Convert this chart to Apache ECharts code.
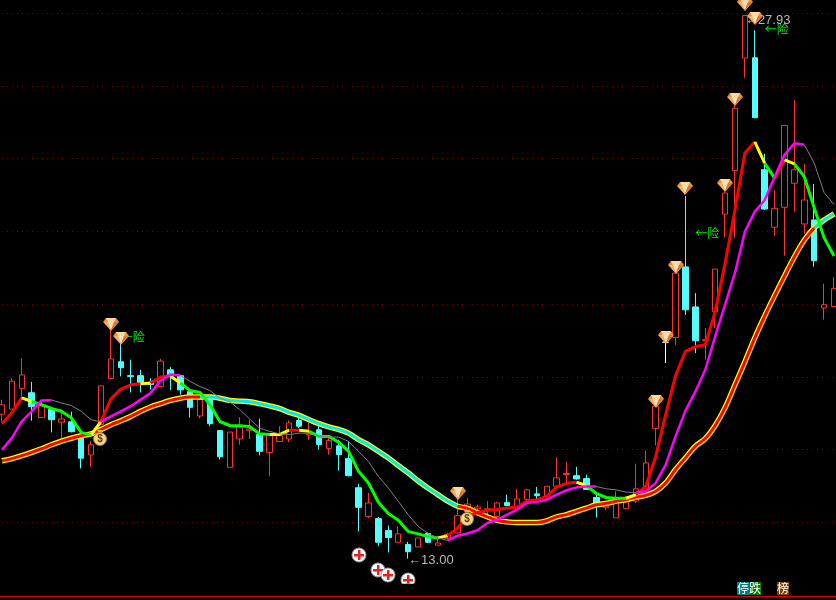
<!DOCTYPE html>
<html>
<head>
<meta charset="utf-8">
<title>K线</title>
<style>
html,body{margin:0;padding:0;background:#000;}
#main{width:836px;height:600px;}
</style>
<script src="https://cdn.jsdelivr.net/npm/echarts@6/dist/echarts.min.js"></script>
</head>
<body>
<div id="main"></div>
<script>
//K线：开，收，低，高
var candles = [
[16.97,17.23,16.77,17.37],[17.11,17.88,17.11,17.96],[17.68,18.05,17.37,18.51],[17.56,17.18,16.79,17.86],[16.88,17.20,16.88,17.37],
[17.10,16.82,16.47,17.15],[16.75,16.84,16.32,17.10],[16.76,16.49,16.47,17.04],[16.36,15.76,15.48,16.47],[15.85,16.13,15.51,16.24],
[16.69,17.75,16.69,17.75],[17.95,18.49,17.92,19.35],[18.41,18.25,18.01,18.93],[18.03,18.01,17.57,18.47],[18.03,17.83,17.57,18.19],
[17.83,17.79,17.64,17.96],[17.73,18.43,17.72,18.49],[18.19,18.03,17.64,18.27],[18.03,17.64,17.51,18.03],[17.59,17.16,16.88,17.59],
[16.92,17.37,16.86,17.51],[17.37,16.71,16.64,17.42],[16.52,15.80,15.72,16.52],[15.51,16.48,15.51,16.48],[16.29,16.62,16.13,16.89],
[16.53,16.56,16.29,16.82],[16.41,15.95,15.84,16.85],[15.92,16.38,15.26,16.38],[16.22,16.38,16.22,16.64],[16.29,16.73,16.20,16.80],
[16.80,16.64,16.59,17.00],[16.40,16.43,16.26,16.73],[16.54,16.14,16.00,16.68],[16.03,16.25,15.86,16.32],[16.10,15.86,15.42,16.27],
[15.75,15.28,15.26,16.22],[14.95,14.41,13.75,15.06],[14.16,14.53,14.11,14.81],[14.10,13.45,13.34,14.15],[13.77,13.58,13.17,13.91],
[13.45,13.68,13.45,13.89],[13.39,13.19,13.00,13.46],[13.32,13.57,13.32,13.57],[13.69,13.45,13.43,13.72],[13.37,13.43,13.37,13.54],
[13.56,13.67,13.52,13.71],[13.71,14.18,13.69,14.68],[14.30,14.50,14.07,14.67],[14.37,14.42,14.33,14.48],[14.33,14.37,14.07,14.58],
[14.16,14.53,14.15,14.56],[14.54,14.46,14.44,14.76],[14.42,14.64,14.39,14.92],[14.63,14.89,14.58,14.92],[14.78,14.73,14.62,14.97],
[14.71,14.99,14.58,14.99],[14.99,15.22,14.94,15.79],[15.31,15.34,15.08,15.66],[15.28,15.19,15.17,15.52],[15.20,14.90,14.90,15.31],
[14.68,14.49,14.13,14.76],[14.40,14.44,14.33,14.60],[14.12,14.60,14.12,14.85],[14.38,14.64,14.38,14.71],[14.58,14.92,14.53,15.61],
[14.94,15.63,14.94,15.97],[16.58,17.19,16.11,17.48],[18.95,18.95,18.38,19.15],[19.08,20.85,18.88,20.94],[21.02,19.84,19.70,22.97],
[19.92,18.99,18.65,20.30],[18.99,19.02,18.47,19.34],[19.79,20.96,19.35,20.96],[22.47,23.05,21.83,23.09],[23.67,25.38,21.82,25.53],
[26.76,27.93,26.22,27.93],[26.77,25.12,25.12,27.53],[23.69,22.61,22.59,24.13],[22.11,22.63,21.87,23.14],[22.66,24.91,21.33,24.91],
[23.32,23.69,22.54,25.61],[22.20,22.86,21.93,23.85],[22.31,21.19,21.03,23.30],[19.89,19.98,19.57,20.56],[19.93,20.42,19.93,20.74]
];
//快线
var fastLine = [
16.71,17.01,17.42,17.32,17.23,17.13,17.05,16.87,16.47,16.40,16.77,17.39,17.66,17.78,17.81,17.83,17.99,18.02,17.83,17.62,
17.57,17.23,16.77,16.66,16.65,16.63,16.43,16.41,16.41,16.53,16.53,16.50,16.36,16.36,16.20,15.95,15.40,15.08,14.55,14.24,
14.06,13.75,13.68,13.61,13.57,13.63,13.84,14.16,14.27,14.33,14.35,14.39,14.42,14.58,14.62,14.71,14.97,15.07,15.10,15.01,
14.79,14.68,14.66,14.66,14.76,14.99,15.81,16.96,18.03,18.70,18.83,18.88,19.79,21.12,22.59,24.15,24.46,23.87,23.46,23.96,
23.85,23.50,22.64,21.82,21.32
];
//中线
var midLine = [
15.99,16.32,16.77,17.05,17.35,17.36,17.28,17.21,17.05,16.82,16.76,16.91,17.05,17.19,17.37,17.55,17.89,18.06,18.04,17.87,
17.73,17.62,17.41,17.31,17.10,16.84,16.59,16.50,16.43,16.41,16.45,16.45,16.36,16.34,16.34,16.22,15.95,15.67,15.26,14.94,
14.58,14.21,13.89,13.69,13.57,13.50,13.63,13.69,13.78,13.98,14.07,14.21,14.35,14.53,14.56,14.62,14.76,14.88,14.96,14.98,
14.98,14.92,14.89,14.83,14.81,14.85,15.08,15.58,16.36,17.07,17.59,18.19,19.11,19.98,20.86,21.99,22.54,22.86,23.49,24.10,
24.42,24.38,23.87,23.06,22.73
];
//慢线
var slowLine = [
15.69,15.75,15.83,15.92,16.02,16.13,16.23,16.31,16.38,16.43,16.55,16.68,16.79,16.91,17.05,17.17,17.26,17.35,17.41,17.44,
17.44,17.44,17.41,17.35,17.33,17.31,17.26,17.20,17.13,17.02,16.94,16.82,16.71,16.62,16.55,16.45,16.27,16.13,15.95,15.77,
15.56,15.36,15.14,14.94,14.76,14.58,14.44,14.38,14.26,14.15,14.05,14.01,13.99,13.99,13.99,14.04,14.15,14.21,14.30,14.39,
14.48,14.52,14.58,14.62,14.69,14.74,14.85,15.08,15.45,15.77,16.09,16.30,16.66,17.15,17.78,18.41,19.07,19.67,20.23,20.77,
21.30,21.76,22.09,22.31,22.48
];
//各线分段：转折点下标和走势
var fastTurns = [0,2,3,9,10,14,15,17,18,27,29,30,31,44,45,58,59,63,64,76,77,78,79,80,84];
var fastTrend = ['up','flat','down','flat','up','flat','up','flat','down','flat','up','flat','down','flat','up','flat','down','flat','up','flat','down','up','flat','down'];
var midTurns = [0,5,10,18,45,60,64,81,84];
var midTrend = ['up','down','up','down','up','down','up','down'];
var slowTurns = [0,20,46,82,84];
var slowTrend = ['up','down','up','down'];
//图标：下标和价位
var diamondMarks = [[11,19.46],[12,19.07],[46,14.81],[66,17.34],[67,19.10],[68,21.02],[69,23.19],[73,23.28],[74,25.64],[75,28.25],[76,27.86]];
var bagMarks = [[10,16.32],[47,14.13]];
var plusMarks = [[36,13.11],[38,12.70],[39,12.56],[41,12.42]];
var plusFloor = 12.31;
var riskMarks = [[12,19.08],[77,27.54],[70,21.94]];
var riskText = '←险';
var lowIndex = 41;
var highIndex = 75;

var categories = candles.map(function(c,i){ return i; });
var colorUp = '#ff3232', colorDown = '#54fcfc';

//把一条线切成一段，段外为空
function segment(values,from,to){
    return values.map(function(v,i){ return (i>=from&&i<=to)?v:null; });
}
function lineSeries(values,turns,trend,styleMap,z,smooth){
    var out = [];
    trend.forEach(function(t,k){
        var st = styleMap[t];
        out.push({
            type:'line',
            data:segment(values,turns[k],turns[k+1]),
            symbol:'none',
            silent:true,
            animation:false,
            smooth:smooth||false,
            z:z,
            lineStyle:{color:st.color,width:st.width,cap:'butt',join:'round'}
        });
    });
    return out;
}

//钻石图标
function renderDiamond(params,api){
    var p = api.coord([api.value(0),api.value(1)]);
    return {
        type:'group',x:Math.round(p[0]),y:Math.round(p[1]),
        children:[
            {type:'polygon',shape:{points:[[-8,-2],[-5,-6],[5,-6],[8,-2],[0,7]]},style:{fill:'#e8923c'}},
            {type:'polygon',shape:{points:[[-5,-6],[5,-6],[3,-2],[-3,-2]]},style:{fill:'#fdd9a0'}},
            {type:'polygon',shape:{points:[[-7,-2],[-3,-2],[0,6]]},style:{fill:'#f6b26a'}},
            {type:'polygon',shape:{points:[[-3,-2],[3,-2],[0,6]]},style:{fill:'#fbe3bd'}},
            {type:'polygon',shape:{points:[[3,-2],[7,-2],[0,6]]},style:{fill:'#d97a2a'}}
        ]
    };
}
//钱袋图标
function renderBag(params,api){
    var p = api.coord([api.value(0),api.value(1)]);
    return {
        type:'group',x:Math.round(p[0])-1,y:Math.round(p[1]),
        children:[
            {type:'polygon',shape:{points:[[-3,-8],[3,-8],[1,-4],[-1,-4]]},style:{fill:'#d8b060'}},
            {type:'circle',shape:{cx:0,cy:1,r:6.5},style:{fill:'#f0d890',stroke:'#a87828',lineWidth:1}},
            {type:'text',style:{text:'$',x:0,y:1,fill:'#703808',font:'bold 10px "Liberation Sans"',align:'center',verticalAlign:'middle'}}
        ]
    };
}
//红十字图标
function renderPlus(params,api){
    var p = api.coord([api.value(0),api.value(1)]);
    var floorY = api.coord([0,plusFloor])[1];
    var x = Math.round(p[0]), y = Math.round(p[1]);
    return {
        type:'group',x:x,y:y,
        clipPath:{type:'rect',shape:{x:-10,y:-10,width:20,height:floorY-y+10}},
        children:[
            {type:'circle',shape:{cx:0,cy:0,r:7},style:{fill:'#fff',stroke:'#999',lineWidth:1}},
            {type:'rect',shape:{x:-5,y:-1,width:10,height:2.5},style:{fill:'#e82020'}},
            {type:'rect',shape:{x:-1,y:-5,width:2.5,height:10},style:{fill:'#e82020'}}
        ]
    };
}
//绿色“险”字
function renderRisk(params,api){
    var p = api.coord([api.value(0),api.value(1)]);
    return {
        type:'text',x:p[0],y:p[1],
        style:{text:riskText,fill:'#00f000',font:'12px "Noto Sans CJK SC"',verticalAlign:'middle'}
    };
}
//最高最低价标注，取自K线数据
function renderExtreme(params,api){
    var p = api.coord([api.value(0),api.value(1)]);
    return {
        type:'text',x:p[0],y:p[1]+api.value(2),
        style:{text:'←'+api.value(1).toFixed(2),fill:'#b8b8b8',font:'13px "Liberation Sans"',verticalAlign:'middle'}
    };
}
function customSeries(data,render,z){
    return {type:'custom',data:data,renderItem:render,z:z,silent:true,animation:false,clip:false};
}

var series = [{
    type:'candlestick',
    data:candles,
    barWidth:6,
    z:2,
    silent:true,
    animation:false,
    clip:false,
    itemStyle:{
        color:'#000',color0:colorDown,
        borderColor:colorUp,borderColor0:colorDown,borderColorDoji:'#fff',
        borderWidth:1
    }
}];
series = series.concat(
    lineSeries(slowLine,[0,84],['base'],{base:{color:'#ffff00',width:5.5}},3,0.3),
    lineSeries(slowLine,slowTurns,slowTrend,{up:{color:'#ff0000',width:3},down:{color:'#00e8f0',width:3}},4,0.3),
    lineSeries(fastLine,fastTurns,fastTrend,{up:{color:'#ff0000',width:3},flat:{color:'#ffff00',width:3},down:{color:'#00ff00',width:3}},5),
    lineSeries(midLine,midTurns,midTrend,{up:{color:'#ff00ff',width:2.5},down:{color:'#808080',width:1}},6)
);
series.push(customSeries(riskMarks,renderRisk,7));
series.push(customSeries([[highIndex,candles[highIndex][3],5],[lowIndex,candles[lowIndex][2],2]],renderExtreme,7));
series.push(customSeries(diamondMarks,renderDiamond,8));
series.push(customSeries(bagMarks,renderBag,8));
series.push(customSeries(plusMarks,renderPlus,8));

var myChart = echarts.init(document.getElementById('main'));
var option = {
    backgroundColor:'#000',
    animation:false,
    grid:{left:-3,top:13,width:842,height:582,outerBoundsMode:'none'},
    xAxis:{
        type:'category',
        data:categories,
        offset:1.5,
        axisLine:{lineStyle:{color:'#e00000',width:1}},
        axisTick:{show:false},
        axisLabel:{show:false},
        splitLine:{show:false}
    },
    yAxis:{
        type:'value',
        min:12,max:28,interval:2,
        axisLine:{show:false},
        axisTick:{show:false},
        axisLabel:{show:false},
        splitLine:{show:true,showMinLine:false,lineStyle:{color:'#800000',width:1,type:[1,4]}}
    },
    graphic:[
        {type:'text',left:737,top:582,z:20,style:{text:'停',fill:'#fff',font:'12px "Noto Sans CJK SC"',backgroundColor:'#008080',padding:[0,0,0,0],lineHeight:13}},
        {type:'text',left:749,top:582,z:20,style:{text:'跌',fill:'#fff',font:'12px "Noto Sans CJK SC"',backgroundColor:'#008000',padding:[0,0,0,0],lineHeight:13}},
        {type:'text',left:777,top:582,z:20,style:{text:'榜',fill:'#fff',font:'12px "Noto Sans CJK SC"',backgroundColor:'#804000',padding:[0,0,0,0],lineHeight:13}}
    ],
    series:series
};
myChart.setOption(option);
</script>
</body>
</html>
